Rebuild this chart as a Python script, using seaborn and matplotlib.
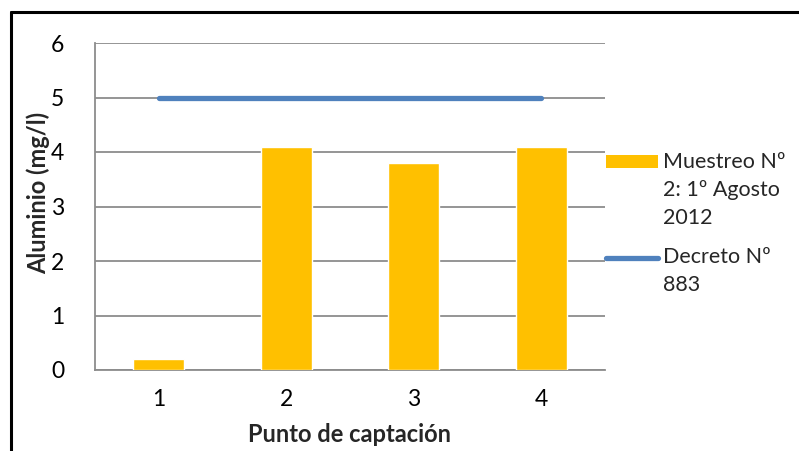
import matplotlib
matplotlib.use("Agg")
import matplotlib.pyplot as plt
import seaborn as sns
import pandas as pd
from matplotlib.patches import Rectangle
from matplotlib.lines import Line2D

# Data
puntos = ["1", "2", "3", "4"]
aluminio = [0.2, 4.1, 3.8, 4.1]
decreto = [5, 5, 5, 5]
y_ticks = [0, 1, 2, 3, 4, 5, 6]

label_muestreo = "Muestreo Nº\n2: 1º Agosto\n2012"
label_decreto = "Decreto Nº\n883"

sns.set_theme(style="white")
plt.rcParams["font.family"] = ["Lato", "DejaVu Sans"]

W, H = 799, 451
fig = plt.figure(figsize=(W / 100, H / 100), dpi=100)
fig.patch.set_facecolor("white")


def fx(px):
    return px / W


def fy(py):
    return 1 - py / H


# Chart frame (top and left edges visible)
fig.add_artist(Line2D([fx(11), fx(11)], [0, fy(12)], color="black", lw=2.2,
                      transform=fig.transFigure))
fig.add_artist(Line2D([fx(11), 1], [fy(12), fy(12)], color="black", lw=2.2,
                      transform=fig.transFigure))

left, right, top, bottom = 95, 605, 43, 370
ax = fig.add_axes([fx(left), fy(bottom), (right - left) / W, (bottom - top) / H])

df = pd.DataFrame({"punto": puntos, "aluminio": aluminio, "decreto": decreto})

yellow = "#FFC000"
blue = "#4F81BD"
grid = "#8C8C8C"

sns.barplot(data=df, x="punto", y="aluminio", color=yellow, width=0.4,
            saturation=1, ax=ax, zorder=3)
sns.lineplot(data=df, x="punto", y="decreto", color=blue, lw=3.8, ax=ax,
             zorder=4, solid_capstyle="round", sort=False)

ax.set_xlim(-0.5, 3.5)
ax.set_ylim(0, 6)
ax.set_yticks(y_ticks)
ax.set_yticklabels([str(v) for v in y_ticks])
ax.yaxis.grid(True, color=grid, lw=1.3)
ax.set_axisbelow(True)
for s in ["top", "right"]:
    ax.spines[s].set_visible(False)
for s in ["left", "bottom"]:
    ax.spines[s].set_color(grid)
    ax.spines[s].set_linewidth(1.3)
ax.tick_params(axis="both", length=0, labelsize=16.5, colors="black")
ax.tick_params(axis="y", pad=22)
ax.tick_params(axis="x", pad=14)

ax.set_xlabel("Punto de captación", fontsize=17, fontweight="bold", labelpad=9)
ax.set_ylabel("Aluminio (mg/l)", fontsize=17, fontweight="bold")
ax.yaxis.set_label_coords(-0.088, 0.54)

# Legend, laid out beside the plot area
legend_fs = 15.5
fig.add_artist(Rectangle((fx(606), fy(168)), fx(658) - fx(606), fy(155) - fy(168),
                         facecolor=yellow, edgecolor="none",
                         transform=fig.transFigure))
fig.text(fx(663), fy(152), label_muestreo, fontsize=legend_fs, va="top", ha="left",
         linespacing=1.5)
fig.add_artist(Line2D([fx(606), fx(658)], [fy(258), fy(258)], color=blue, lw=3.8,
                      solid_capstyle="round", transform=fig.transFigure))
fig.text(fx(663), fy(247), label_decreto, fontsize=legend_fs, va="top", ha="left",
         linespacing=1.5)

fig.savefig("out.png", dpi=100, facecolor="white")
